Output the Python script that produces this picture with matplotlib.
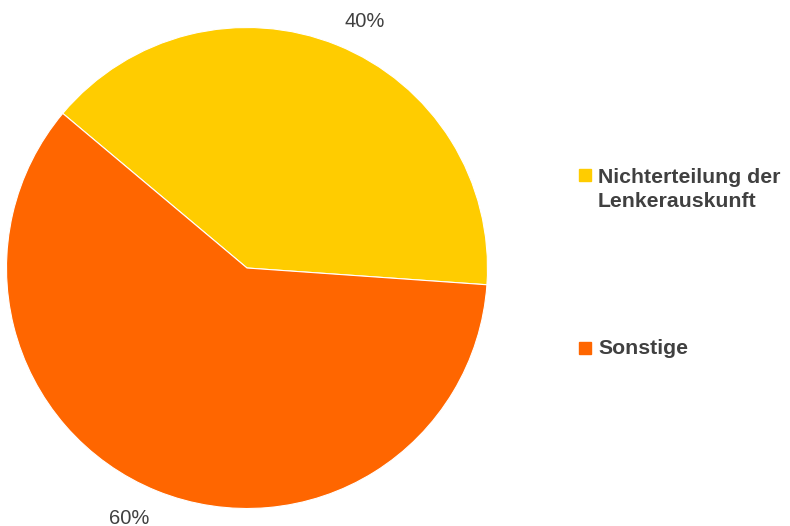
import matplotlib
matplotlib.use("Agg")
import matplotlib.pyplot as plt
from matplotlib.patches import Rectangle

# Data
categories = ["Nichterteilung der\nLenkerauskunft", "Sonstige"]
shares = [40, 60]
colors = ["#FFCC00", "#FF6600"]

text_color = "#404040"
plt.rcParams["font.family"] = ["Liberation Sans", "DejaVu Sans"]

W, H = 790, 526
fig = plt.figure(figsize=(W / 100, H / 100), dpi=100)

# pie axes: centre (247, 268), radius 240 px
cx, cy, r = 247, 268, 240.5
ax = fig.add_axes([(cx - r) / W, (H - cy - r) / H, 2 * r / W, 2 * r / H])
wedges, _, pcts = ax.pie(
    shares, colors=colors, startangle=140, counterclock=False, radius=1,
    autopct="%.0f%%", pctdistance=1.08,
    wedgeprops=dict(edgecolor="white", linewidth=0.8),
    textprops=dict(color=text_color, fontsize=14.5),
)
for t in pcts:
    x, y = t.get_position()
    t.set_ha("left" if x > 0 else "right")
    t.set_va("baseline" if y > 0 else "top")
ax.set_xlim(-1, 1)
ax.set_ylim(-1, 1)
ax.set_aspect("equal")
ax.axis("off")

# legend drawn by hand: swatch next to the first line of each label
line_h = 26
legend_rows = [181, 354]
for label, color, base in zip(categories, colors, legend_rows):
    nlines = label.count("\n") + 1
    fig.patches.append(Rectangle((579 / W, (H - base) / H), 12 / W, 12 / H,
                                 transform=fig.transFigure, color=color))
    fig.text(598 / W, (H - base - line_h * (nlines - 1)) / H, label,
             ha="left", va="baseline", fontsize=15.3, fontweight="bold",
             color=text_color, linespacing=1.33)

fig.savefig("out.png", dpi=100)
